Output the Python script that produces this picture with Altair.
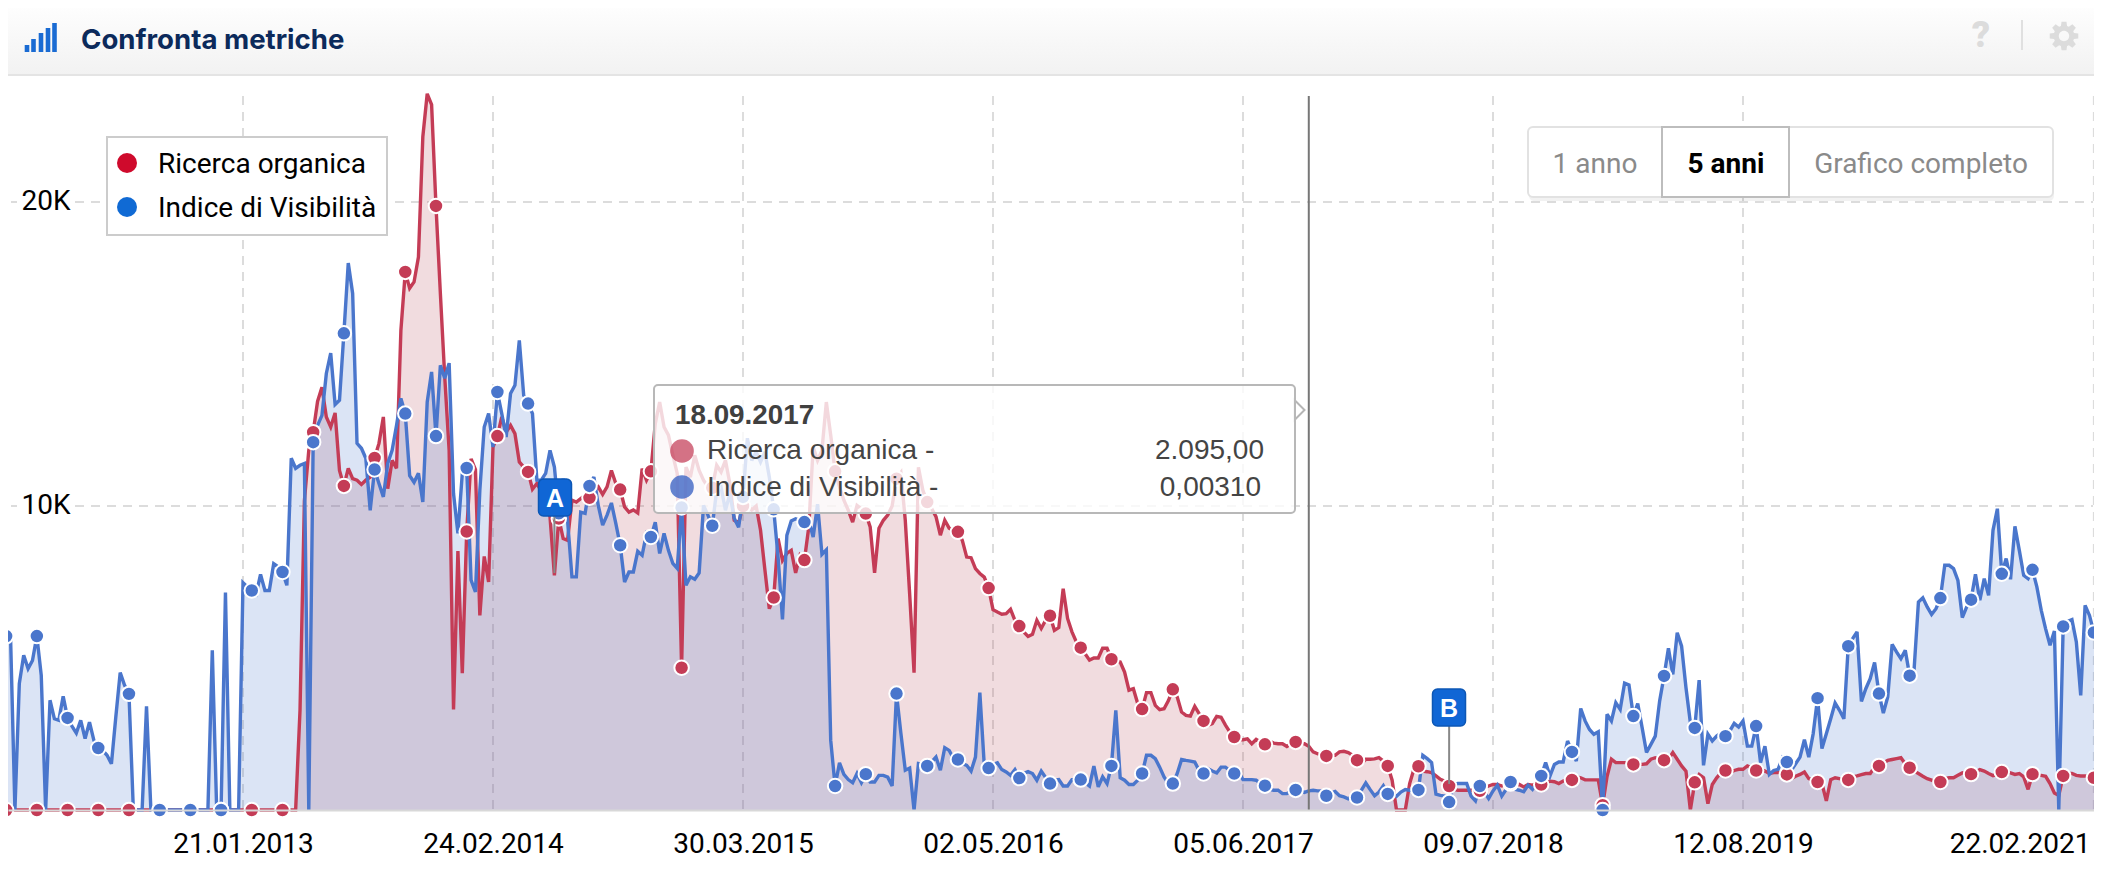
import math
import altair as alt
import pandas as pd

# ---- series: each run is (first week index relative to 21.01.2013, values in thousands)
blue_runs = [
 (-54,[5.72,5.72,0,4.16,5.09,4.65,4.92,5.72,4.43,0]),
 (-44,[3.61,3.0,2.95,3.74,3.03,2.76,2.53,2.95,2.35,2.89,2.29,2.04,1.96,1.8,1.52,3.06,4.52,4.1,3.82,0]),
 (-24,[0,0,3.41,0,0,0,0,0,0,0,0,0,0,0,0,0,0,5.25,0,0,7.15,0,0,0]),
 (0,[7.48,7.34,7.22,7.1,7.75,7.22,7.22,8.1,8.0,7.83]),
 (10,[7.39,11.57,11.24,11.34,11.4,0]),
 (16,[12.1,12.65,12.98,14.36,15.03,13.34,13.48,15.68,17.99,16.99]),
 (26,[12.06,11.9,11.57,9.86,11.2,10.74,10.3,11.4,11.83,12.65]),
 (36,[13.54,13.04,11.0,10.78,11.08,10.13,13.42,14.41,12.3,14.63]),
 (46,[14.2,14.7,10.41,9.1,11.07,11.25,7.56,7.17,10.52,12.6]),
 (56,[13.04,11.94,13.75,13.04,12.27,13.7,13.97,15.45,13.64,13.37]),
 (66,[13.04,10.85,10.85,11.07,11.83,11.28,9.76,10.9,9.53,7.67]),
 (76,[7.67,9.8,9.76,10.66,10.95,10.02,9.37,9.7,10.1,9.43]),
 (86,[8.71,7.5,7.83,7.83,8.51,8.38,9.1,8.98,9.47,8.44]),
 (96,[9.1,8.54,8.11,7.95,9.95,7.39,7.67,7.59,7.8,10.02]),
 (106,[9.7,9.35,10.52,10.62,9.86,10.4,9.6,9.3,10.3,12.23]),
 (116,[11.5,11.78,11.45,11.78,10.95,9.89,8.32,6.27,9.04,9.51]),
 (126,[9.58,9.53,9.47,9.53,8.98,10.06,8.41,8.56,2.29,0.79]),
 (136,[1.55,1.17,1.0,0.9,1.2,0.9,1.18,.92,.92,1.14]),
 (146,[1.14,1.08,.79,3.83,2.52,1.31,1.38,0,1.53,1.5]),
 (156,[1.45,1.58,1.74,1.31,2.05,1.96,1.7,1.66,1.53,1.47]),
 (166,[1.28,1.74,3.86,1.5,1.38,1.5,1.55,1.33,1.25,1.14]),
 (176,[1.33,1.05,1.2,1.26,1.2,.98,1.28,1.07,.87,.98]),
 (186,[1.0,.79,.79,1.0,1.0,1.0,.9,.79,1.44,.76]),
 (196,[1.09,.87,1.45,3.28,1.06,.98,.84,.84,.98,1.2]),
 (206,[1.8,1.8,1.69,1.41,1.09,.87,.87,1.2,1.66,1.63]),
 (216,[1.61,1.58,1.3,1.2,1.36,1.28,1.22,1.41,1.41,1.3]),
 (226,[1.2,1.25,1.0,1.0,1.0,.98,.87,.8,.68,.65]),
 (236,[.65,.54,.54,.63,.66,.65,.58,.63,.65,.63]),
 (246,[.63,.47,.56,.61,.47,.43,.37,.45,.41,.65]),
 (256,[.89,.67,.47,.59,.8,.53,.56,.45,.59,.67]),
 (266,[.65,.65,.66,1.8,1.69,1.56,.52,.48,.46,.26]),
 (276,[.84,.87,.87,.87,.46,.3,.79,.6,.38,.63]),
 (286,[.82,.46,.68,.92,.68,.65,.6,.82,.68,.9]),
 (296,[1.12,1.56,1.12,1.5,1.58,1.58,2.27,1.91,1.61,3.34]),
 (306,[2.93,2.65,2.49,2.57,0,3.15,2.93,3.53,3.31,4.17]),
 (316,[4.11,3.09,3.5,2.71,1.89,2.16,2.43,3.59,4.41,5.32]),
 (326,[4.46,5.83,5.39,4.02,2.87,2.7,4.27,1.47,2.49,2.27]),
 (336,[2.43,2.54,2.43,2.6,2.85,2.73,2.93,2.1,2.1,2.76]),
 (346,[1.56,2.1,1.17,1.3,1.34,1.72,1.58,1.3,1.52,1.74]),
 (356,[2.31,1.74,2.51,3.68,2.02,2.51,3.0,3.52,3.28,3.0]),
 (366,[5.39,5.64,5.86,3.57,3.99,4.32,4.85,3.83,3.19,3.72]),
 (376,[5.45,5.2,4.98,5.25,4.42,4.6,6.84,6.98,6.68,6.43]),
 (386,[6.62,6.97,8.05,8.05,7.94,7.55,6.33,6.68,6.92,7.75]),
 (396,[6.9,7.61,7.06,9.2,9.91,7.77,8.27,7.59,9.33,8.54]),
 (406,[7.72,7.61,7.9,7.34,6.57,5.96,5.42,5.89,0,6.04]),
 (416,[6.2,6.26,5.53,3.77,6.73,6.4,5.84,5.8,5.85]),
]
red_runs = [
 (-54,[0]*67),
 (13,[3.28,10.17,11.83,12.43,13.44,13.91,12.93,12.6,13.06,11.17]),
 (23,[10.66,11.24,10.9,10.85,10.71,10.85,10.95,11.58,12.06,12.93]),
 (33,[10.57,11.5,11.24,15.78,17.7,17.16,17.37,18.19,22.14,23.56]),
 (43,[23.2,19.87,16.99,14.24,11.83,3.31,8.52,4.5,9.16,11.55]),
 (53,[11.2,6.4,8.34,7.5,11.94,12.3,12.93,12.43,12.65,12.38]),
 (63,[11.45,11.28,11.12,10.55,10.74,10.5,10.0,9.64,7.72,9.59]),
 (73,[8.93,8.87,10.19,10.13,10.24,10.35,10.27,10.52,10.63,10.38]),
 (83,[10.63,11.17,10.74,10.54,9.97,9.8,9.87,9.77,11.23,10.85]),
 (93,[11.14,12.71,13.42,12.6,12.33,11.67,11.07,4.68,11.28,10.95]),
 (103,[11.67,11.17,10.85,10.63,10.6,11.34,11.12,11.5,10.74,9.53]),
 (113,[9.44,10.0,10.02,9.87,10.0,9.2,7.89,6.62,6.99,8.93]),
 (123,[8.21,8.44,8.54,7.8,8.38,8.22,9.31,11.94,11.5,11.83]),
 (133,[13.42,12.33,11.14,10.63,10.19,9.86,9.47,10.02,9.9,9.75]),
 (143,[9.31,7.8,9.27,9.53,9.7,10.0,10.9,11.1,9.53,7.1]),
 (153,[4.52,11.27,10.52,10.13,9.92,9.65,9.04,9.53,9.27,9.2]),
 (163,[9.15,8.87,8.32,8.3,7.94,7.78,7.66,7.3,6.59,6.51]),
 (173,[6.44,6.46,6.6,6.24,6.05,5.86,5.71,5.78,6.24,5.97]),
 (183,[6.24,6.39,5.91,6.0,7.28,6.3,5.86,5.53,5.34,5.14]),
 (193,[4.93,5.0,5.0,5.32,5.32,4.96,4.9,4.87,4.54,3.94]),
 (203,[3.99,3.5,3.32,3.86,3.86,3.44,3.3,3.33,3.6,3.97]),
 (213,[3.72,3.22,3.11,3.09,3.41,3.17,2.93,2.79,2.84,3.08]),
 (223,[3.05,2.79,2.57,2.4,2.32,2.31,2.34,2.18,2.32,2.24]),
 (233,[2.16,2.27,2.2,2.18,2.18,2.09,2.18,2.24,2.2,2.18]),
 (243,[2.095,1.91,1.85,1.8,1.78,1.8,1.8,1.91,1.93,1.89]),
 (253,[1.8,1.64,1.52,1.67,1.67,1.68,1.72,1.61,1.45,.98]),
 (263,[0,0,0,.87,1.36,1.44,1.28,1.26,1.23,1.12]),
 (273,[1.01,.95,.79,.68,.65,.65,.65,.65,.6,.63]),
 (283,[.73,.79,.84,.84,.79,.84,.87,.79,.84,.76]),
 (293,[.84,.82,.87,.84,.9,.95,.93,.87,.95,1.0]),
 (303,[.99,1.09,1.06,.99,.99,.99,.99,.16,1.1,1.67]),
 (313,[1.56,1.56,1.56,1.56,1.5,1.5,1.5,1.52,1.67,1.72]),
 (323,[1.67,1.64,1.67,1.89,1.67,1.45,1.28,0,.91,1.17]),
 (333,[1.06,.21,.84,1.06,1.23,1.3,1.23,1.3,1.34,1.34]),
 (343,[1.45,1.39,1.3,1.34,1.28,1.2,1.23,1.23,1.26,1.17]),
 (353,[1.03,1.11,1.17,1.25,1.03,.98,.92,.87,.3,1.0]),
 (363,[1.06,1.03,1.0,.99,1.09,1.12,1.16,1.2,1.2,1.41]),
 (373,[1.45,1.55,1.63,1.66,1.69,1.72,1.52,1.39,1.28,1.2]),
 (383,[1.11,1.03,.98,.92,.92,1.03,1.06,1.06,1.14,1.22]),
 (393,[1.25,1.18,1.25,1.33,1.28,1.2,1.13,1.17,1.25,1.25]),
 (403,[1.22,1.17,1.2,1.09,.68,1.18,1.14,1.14,1.11,.87]),
 (413,[.56,.48,1.12,1.2,1.2,1.14,1.12,1.12,1.11,1.06]),
 (423,[1.06,1.06]),
]
tick_dates = ["2013-01-21","2014-02-24","2015-03-30","2016-05-02","2017-06-05","2018-07-09","2019-08-12","2021-02-22"]
y_ticks = [10, 20]
hover_date = "2017-09-18"
flag_weeks = [71, 275]
flag_tops = [516, 726]
flag_ends = [573, 784]

RED, BLUE = "#c43c56", "#4a76cc"
RED_FILL = "#b9505f"
BASE = pd.Timestamp("2013-01-21")

def frame(runs):
    rows = []
    for start, vals in runs:
        for i, v in enumerate(vals):
            k = start + i
            rows.append({"date": (BASE + pd.Timedelta(days=7*k)).strftime("%Y-%m-%d"), "v": v, "k": k})
    return pd.DataFrame(rows)

red_df, blue_df = frame(red_runs), frame(blue_runs)
red_mk = red_df[(red_df.k - 2) % 7 == 0]
blue_mk = blue_df[(blue_df.k - 2) % 7 == 0]

DAY = 86400000
base_ms = BASE.value / 1e6
RIGHT = 2094   # last image column the page lets the chart reach
x_scale = alt.Scale(type="utc", domain=[base_ms + (8-243)*399/250*DAY, base_ms + (RIGHT-243)*399/250*DAY])
y_scale = alt.Scale(domain=[0, 714/30.4], nice=False, zero=False)
ms = [pd.Timestamp(d).value / 1e6 for d in tick_dates]
axis_x = alt.Axis(values=ms, labelExpr="utcFormat(datum.value, '%d.%m.%Y')", grid=False, ticks=False,
                  domain=True, domainColor="#d8d8d8", domainWidth=2, labelFont="Roboto", labelFontSize=28,
                  labelColor="#000000", labelPadding=20, labelOverlap=False, labelFlush=False, zindex=1, title=None,
                  labelAlign={"condition": {"test": "datum.value > 1600000000000", "value": "right"}, "value": "center"},
                  labelOffset={"condition": {"test": "datum.value > 1600000000000", "value": -4}, "value": 0})
axis_y = alt.Axis(values=y_ticks, labelExpr="datum.value + 'K'", grid=False, ticks=False, domain=False,
                  labelFont="Roboto", labelFontSize=28, labelColor="#000000", labelAlign="left", title=None,
                  labelPadding=-13, labelBaseline="middle", labelOffset=-1, zindex=1)
X = alt.X("date:T", scale=x_scale, title=None, axis=axis_x)
Y = alt.Y("v:Q", scale=y_scale, title=None, axis=axis_y)

one = pd.DataFrame({"a": [0]})
def px(v): return v - 8
def py(v): return v - 96

def txt(s, x, y, size, color, weight="normal", font="Roboto", align="left"):
    return alt.Chart(one).mark_text(text=s, fontSize=size, font=font, fontWeight=weight, color=color,
                                    align=align, baseline="alphabetic").encode(x=alt.value(px(x)), y=alt.value(py(y)))
def box(x0, y0, x1, y1, **kw):
    return alt.Chart(one).mark_rect(**kw).encode(x=alt.value(px(x0)), x2=alt.value(px(x1)), y=alt.value(py(y0)), y2=alt.value(py(y1)))
def dot(x, y, size, **kw):
    return alt.Chart(one).mark_point(filled=True, **kw).encode(x=alt.value(px(x)), y=alt.value(py(y)), size=alt.value(size))

# grid
grid_x = alt.Chart(pd.DataFrame({"date": tick_dates})).mark_rule(color="#dcdcdc", strokeWidth=2, strokeDash=[9, 7]).encode(
    x=X, y=alt.value(0), y2=alt.value(714))
grid_y = alt.Chart(pd.DataFrame({"v": y_ticks})).mark_rule(color="#dcdcdc", strokeWidth=2, strokeDash=[9, 7]).encode(
    y=Y, x=alt.value(px(11)), x2=alt.value(px(2093)))
label_patches = [box(17, y - 18, 74, y + 18, color="#ffffff") for y in (201.7, 505.7)]

red_area = alt.Chart(red_df).mark_area(color=RED_FILL, opacity=0.2).encode(x=X, y=Y)
blue_area = alt.Chart(blue_df).mark_area(color=BLUE, opacity=0.2).encode(x=X, y=Y)
red_line = alt.Chart(red_df).mark_line(color=RED, strokeWidth=3.4, strokeJoin="miter", strokeMiterLimit=3).encode(x=X, y=Y)
blue_line = alt.Chart(blue_df).mark_line(color=BLUE, strokeWidth=3.4, strokeJoin="miter", strokeMiterLimit=3).encode(x=X, y=Y)
red_pts = alt.Chart(red_mk).mark_point(filled=True, opacity=1, fill=RED, stroke="#ffffff", strokeWidth=2, size=210).encode(x=X, y=Y)
blue_pts = alt.Chart(blue_mk).mark_point(filled=True, opacity=1, fill=BLUE, stroke="#ffffff", strokeWidth=2, size=210).encode(x=X, y=Y)

# gear icon outline (interface chrome, not data)
gear = []
for i in range(8):
    a = i * math.pi / 4
    for da, r in ((-0.30, 0.72), (-0.17, 1.0), (0.17, 1.0), (0.30, 0.72)):
        gear.append((r * math.cos(a + da), r * math.sin(a + da)))
gear_path = "M" + "L".join(f"{x:.3f},{y:.3f}" for x, y in gear) + "Z"
gear_path += "M0.36,0A0.36,0.36 0 1 0 -0.36,0A0.36,0.36 0 1 0 0.36,0Z"

# header
header = [
    box(0, 0, 2102, 74, color=alt.LinearGradient(gradient="linear", x1=0, x2=0, y1=0, y2=1,
        stops=[alt.GradientStop(color="#ffffff", offset=0), alt.GradientStop(color="#f2f2f2", offset=1)])),
    box(0, 74, 2102, 76, color="#e4e4e4"),
    txt("Confronta metriche", 81, 49, 27.6, "#0c2a5b", weight=700, font="Inter"),
    txt("?", 1981, 47, 36, "#dcdcdc", weight=900, font="Roboto", align="center"),
    box(2021, 20, 2023, 50, color="#e0e0e0"),
    alt.Chart(one).mark_point(shape=gear_path, filled=True, color="#dcdcdc", opacity=1).encode(
        x=alt.value(px(2064)), y=alt.value(py(36)), size=alt.value(841)),
]
for x, top in zip((27, 33.5, 41, 48, 54.5), (45, 39, 33, 28, 23)):
    header.append(box(x - 2.3, top, x + 2.3, 52, color="#1a6bd3"))

# range selector
selector = [
    box(1529, 131, 2054, 201, color="#000000", opacity=0.05, cornerRadius=5),
    box(1528, 127, 2053, 197, fill="#ffffff", stroke="#e2e2e2", strokeWidth=2, cornerRadius=5),
    box(1662, 127, 1789, 197, fill="#ffffff", stroke="#bdbdbd", strokeWidth=2),
    txt("1 anno", 1595, 172.7, 28, "#8a8a8a", align="center"),
    txt("5 anni", 1726, 172.7, 28, "#000000", weight=700, align="center"),
    txt("Grafico completo", 1921, 172.7, 28, "#8a8a8a", align="center"),
]

# legend
legend = [
    box(107, 137, 387, 235, fill="#ffffff", stroke="#cccccc", strokeWidth=2),
    dot(127, 163, 400, color="#cf0a2c", opacity=1),
    dot(127, 207, 400, color="#106ad4", opacity=1),
    txt("Ricerca organica", 158, 172.5, 28, "#000000"),
    txt("Indice di Visibilit\u00e0", 158, 216.5, 28, "#000000"),
]

# flags
flags_df = pd.DataFrame({"date": [(BASE + pd.Timedelta(days=7*k)).strftime("%Y-%m-%d") for k in flag_weeks]})
stems = []
for i, lab, x0 in ((0, "A", 538.5), (1, "B", 1432.5)):
    stems.append(alt.Chart(flags_df.iloc[[i]]).mark_rule(color="#888888", strokeWidth=2).encode(
        x=X, y=alt.value(py(flag_tops[i])), y2=alt.value(py(flag_ends[i]))))
    stems.append(box(x0, flag_tops[i] - 37, x0 + 33, flag_tops[i], fill="#1066d5", stroke="#0d57b5", strokeWidth=1.5, cornerRadius=5))
    stems.append(txt(lab, x0 + 16.5, flag_tops[i] - 9.5, 25, "#ffffff", weight=700, font="Liberation Sans", align="center"))

# crosshair and tooltip
hover = alt.Chart(pd.DataFrame({"date": [hover_date]})).mark_rule(color="#777777", strokeWidth=2).encode(
    x=X, y=alt.value(0), y2=alt.value(714))
tip = [
    alt.Chart(one).mark_point(shape="M0,-1L1,0L0,1Z", filled=True, fill="#ffffff", stroke="#b5b5b5", strokeWidth=2, opacity=1).encode(
        x=alt.value(px(1294.5)), y=alt.value(py(410)), size=alt.value(400)),
    box(654, 385, 1295, 513, fill="#ffffff", fillOpacity=0.8, stroke="#b8b8b8", strokeWidth=2, cornerRadius=4),
    txt("18.09.2017", 675, 424, 27.8, "#404040", weight=700, font="Liberation Sans"),
    dot(682, 451, 560, color=RED, opacity=0.72),
    dot(682, 487, 560, color="#4a6fc8", opacity=0.85),
    txt("Ricerca organica -", 707, 459, 28, "#444444", font="Liberation Sans"),
    txt("Indice di Visibilit\u00e0 -", 707, 495.5, 28, "#444444", font="Liberation Sans"),
    txt("2.095,00", 1264, 459, 28, "#444444", font="Liberation Sans", align="right"),
    txt("0,00310", 1261, 495.5, 28, "#444444", font="Liberation Sans", align="right"),
]

layers = ([grid_x, grid_y] + label_patches + header + [red_area, blue_area, red_line, blue_line, hover, red_pts, blue_pts]
          + stems + tip + selector + legend)
chart = alt.layer(*layers).properties(
    width=RIGHT - 8, height=714, autosize="none",
    padding={"left": 0, "top": 88, "right": 0, "bottom": 56}, background="#ffffff"
).configure_view(stroke=None)

chart.save("out.html", embed_options={"renderer": "svg", "actions": False})
